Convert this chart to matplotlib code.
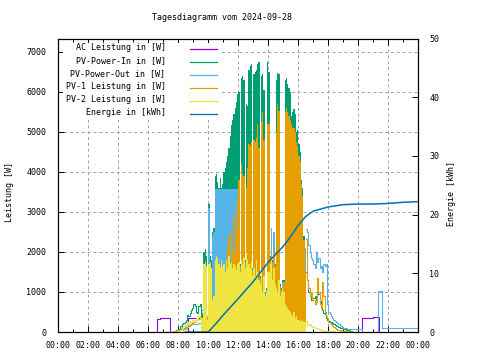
import numpy as np
import matplotlib
matplotlib.use('Agg')
import matplotlib.pyplot as plt
from matplotlib.lines import Line2D
from matplotlib.patches import Rectangle

plt.rcParams['font.family'] = 'DejaVu Sans Mono'
plt.rcParams['font.size'] = 6

# 5-minute values from 07:00 to 20:00, one row per hour
pv_in = [
    0, 0, 0, 0, 0, 0, 0, 0, 0, 20, 40, 60,
    80, 150, 160, 200, 220, 260, 300, 420, 400, 480, 560, 600,
    700, 650, 500, 480, 650, 700, 550, 480, 2000, 2080, 1900, 400,
    3200, 1900, 1800, 2500, 2600, 3900, 3950, 3750, 3600, 3850, 3600, 3700,
    4000, 4100, 4250, 4400, 4600, 4900, 5160, 5300, 5450, 5600, 5750, 5950,
    6000, 1700, 6350, 6400, 6300, 1800, 5700, 5650, 6550, 6650, 6700, 1600,
    6450, 6500, 6550, 6700, 6750, 1400, 6400, 6450, 6050, 1000, 1100, 6750,
    6500, 1900, 2600, 1800, 2500, 1700, 6300, 6480, 6450, 1200, 1100, 1300,
    1300, 6300, 6350, 6200, 6100, 6000, 5400, 5500, 5560, 5450, 5000, 5050,
    4700, 4500, 3800, 3600, 2400, 1600, 1500, 1300, 1000, 900, 800, 850,
    850, 900, 800, 1000, 950, 780, 600, 550, 480, 450, 350, 300,
    280, 260, 240, 220, 200, 180, 160, 140, 120, 110, 100, 90,
    80, 70, 60, 50, 40, 30, 20, 10, 0, 0, 0, 0,
]
pv_out = [
    0, 0, 0, 0, 0, 0, 0, 0, 0, 0, 10, 30,
    40, 80, 100, 120, 110, 130, 150, 160, 170, 180, 190, 200,
    200, 190, 200, 210, 220, 230, 240, 250, 1600, 1650, 1600, 300,
    3100, 1700, 1600, 2400, 2500, 3580, 3580, 3580, 3580, 3580, 3580, 3580,
    3580, 3580, 3580, 3580, 3580, 3580, 3580, 3580, 3580, 3580, 3580, 3580,
    3580, 1650, 3580, 3580, 3580, 1750, 3580, 3580, 3580, 3580, 3580, 1550,
    3580, 3580, 3580, 3580, 3580, 1350, 3580, 3580, 3580, 950, 1050, 3580,
    3580, 1850, 2600, 1750, 2500, 1650, 3580, 3580, 3580, 1150, 1050, 1250,
    1250, 3580, 3580, 3580, 3580, 3580, 3580, 3580, 3580, 3580, 3580, 3580,
    3580, 3580, 3580, 3000, 2200, 2100, 2580, 2500, 2180, 2000, 1850, 1800,
    1700, 1600, 2000, 1750, 1840, 1600, 1650, 1500, 1690, 1650, 1700, 700,
    500, 450, 400, 350, 300, 280, 250, 220, 200, 170, 150, 120,
    100, 100, 90, 85, 80, 80, 80, 80, 80, 80, 80, 80,
]
pv1 = [
    0, 0, 0, 0, 0, 0, 0, 10, 20, 20, 30, 40,
    40, 50, 60, 60, 70, 80, 100, 120, 150, 170, 200, 230,
    250, 280, 300, 300, 320, 330, 330, 350, 450, 500, 480, 400,
    400, 450, 500, 550, 600, 500, 650, 700, 750, 900, 1100, 1300,
    1300, 1500, 1100, 2100, 2400, 1600, 2500, 2900, 2000, 3000, 3300, 2600,
    3800, 1600, 4200, 3950, 3900, 1700, 3600, 4100, 4700, 4650, 4750, 1500,
    4800, 4750, 4850, 5200, 4600, 1300, 5250, 5500, 4800, 900, 1000, 5200,
    5200, 1800, 1900, 1700, 2000, 1600, 5000, 5700, 5530, 1100, 1000, 1200,
    1200, 5500, 5600, 5500, 5400, 5300, 5200, 5100, 5100, 5000, 4750, 4650,
    4400, 4250, 3700, 3400, 2300, 1500, 2330, 1300, 1100, 900, 1000, 800,
    800, 700, 750, 1340, 1000, 700, 600, 1250, 900, 500, 400, 350,
    250, 220, 200, 150, 120, 100, 80, 60, 50, 40, 30, 25,
    25, 25, 20, 20, 15, 15, 10, 10, 5, 0, 0, 0,
]
pv2 = [
    0, 0, 0, 0, 0, 0, 0, 0, 0, 0, 10, 20,
    20, 40, 60, 100, 150, 180, 160, 250, 200, 280, 240, 300,
    300, 280, 350, 300, 400, 350, 300, 350, 1700, 1750, 1650, 300,
    1700, 1750, 1600, 800, 900, 1800, 1900, 1850, 1700, 1600, 1800, 1650,
    1700, 1500, 1800, 1600, 1900, 1700, 1750, 1600, 1700, 1650, 1550, 1700,
    1750, 1500, 1800, 1700, 1850, 1600, 2000, 1800, 1700, 1600, 1750, 1400,
    1600, 1400, 1800, 1500, 1300, 1200, 1500, 1000, 1400, 900, 1000, 1500,
    1500, 1700, 1800, 1300, 1600, 1200, 1100, 1000, 1300, 900, 1000, 1100,
    1000, 700, 650, 600, 550, 500, 450, 400, 500, 350, 400, 300,
    300, 280, 270, 300, 260, 250, 270, 200, 180, 200, 150, 120,
    120, 100, 110, 90, 80, 60, 50, 40, 30, 30, 25, 25,
    25, 25, 20, 20, 15, 10, 10, 5, 0, 0, 0, 0,
    0, 0, 0, 0, 0, 0, 0, 0, 0, 0, 0, 0,
]

# PV-Power-Out after 20:00 (hours, W)
out_night_t = [20.0, 20.27, 21.33, 21.55, 24.0]
out_night_v = [80, 0, 1020, 100, 100]

# AC Leistung (hours, W), nan = no data
ac_t = [6.6, 6.6, 6.8, 7.47, 7.5, 8.67, 8.67, 10.0, 20.27, 20.27, 21.0, 21.35, 21.4]
ac_v = [0, 330, 355, 0, np.nan, 0, 340, np.nan, 0, 350, 370, 0, np.nan]

# Energie (hours, kWh)
en_t = [8.47, 10.0, 10.5, 11.0, 11.5, 12.0, 13.0, 14.0, 15.0, 15.5, 16.0, 16.5,
        17.0, 18.0, 19.0, 20.0, 21.0, 22.0, 23.0, 24.0]
en_v = [0, 0, 1.4, 2.9, 4.3, 5.7, 8.6, 11.9, 14.6, 16.3, 18.2, 19.7,
        20.6, 21.3, 21.7, 21.8, 21.8, 21.9, 22.1, 22.2]

labels = ['AC Leistung in [W]', 'PV-Power-In in [W]', 'PV-Power-Out in [W]',
          'PV-1 Leistung in [W]', 'PV-2 Leistung in [W]', 'Energie in [kWh]']
colors = ['#9400d3', '#009e73', '#56b4e9', '#e69f00', '#f0e442', '#0072b2']

W, H = 480, 360
fig = plt.figure(figsize=(4.8, 3.6), dpi=100)
ax = fig.add_axes([58.3 / W, 28 / H, 360 / W, 293.5 / H])
ax.set_axisbelow(True)

t = 7 + np.arange(len(pv_in) + 1) / 12
day = (t >= 9.5) & (t <= 16.5)
inner = (t > 9.5) & (t < 16.5)

ax.step(ac_t, ac_v, where='post', color=colors[0], lw=0.8, zorder=2.0)


def draw(vals, color, z):
    v = np.append(vals, vals[-1]).astype(float)
    ax.fill_between(t, 0, v, where=day, step='post', color=color, lw=0, zorder=z)
    v_line = v.copy()
    v_line[inner] = np.nan
    ax.step(t, v_line, where='post', color=color, lw=0.8, zorder=z)


draw(pv_in, colors[1], 2.1)
draw(pv_out, colors[2], 2.2)
ax.step(out_night_t, out_night_v, where='post', color=colors[2], lw=0.8, zorder=2.2)
draw(pv1, colors[3], 2.3)
draw(pv2, colors[4], 2.4)

ax.set_xlim(0, 24)
ax.set_ylim(0, 7330)
ax.set_xticks(range(0, 25, 2))
ax.set_xticklabels(['%02d:00' % (h % 24) for h in range(0, 25, 2)])
ax.set_xticks(range(0, 25), minor=True)
ax.set_yticks(range(0, 7001, 1000))
ax.grid(True, which='major', color='#a0a0a0', ls=(0, (3, 3)), lw=0.7)
ax.tick_params(which='both', direction='in', top=True, right=True, width=0.7)
ax.tick_params(which='major', length=4)
ax.tick_params(which='minor', length=2)
ax.tick_params(axis='y', pad=8.6)
ax.tick_params(axis='x', pad=6.5)
for s in ax.spines.values():
    s.set_linewidth(0.8)

ax2 = ax.twinx()
ax2.plot(en_t, en_v, color=colors[5], lw=1.1)
ax2.set_ylim(0, 50)
ax2.set_yticks(range(0, 51, 10))
ax2.tick_params(direction='in', length=4, width=0.7, pad=7.9)
for s in ax2.spines.values():
    s.set_linewidth(0.8)

# opaque key box
ax.add_patch(Rectangle((63 / W, 1 - 120 / H), (222 - 63) / W, (120 - 43) / H,
                       transform=fig.transFigure, facecolor='white',
                       edgecolor='none', zorder=1))
for i, (lab, col) in enumerate(zip(labels, colors)):
    y = 49 + 13 * i
    fig.text(165.5 / W, 1 - (y - 1.5) / H, lab, ha='right', va='center')
    fig.add_artist(Line2D([190 / W, 217 / W], [1 - y / H, 1 - y / H],
                          color=col, lw=0.9, transform=fig.transFigure))

fig.text(222.5 / W, 1 - 18 / H, 'Tagesdiagramm vom 2024-09-28', ha='center', va='center')
fig.text(10 / W, 1 - 192 / H, 'Leistung [W]', rotation=90, ha='center', va='center')
fig.text(452 / W, 1 - 194 / H, 'Energie [kWh]', rotation=90, ha='center', va='center')

fig.savefig('out.png', dpi=100)
